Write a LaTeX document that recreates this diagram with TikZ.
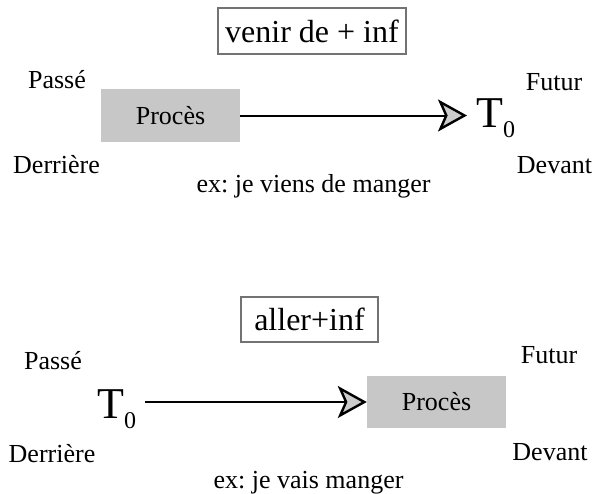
\documentclass[tikz,border=0pt]{standalone}
\usepackage{fontspec}
\setmainfont{Liberation Serif}
\frenchspacing
\usetikzlibrary{arrows.meta}
\begin{document}
\begin{tikzpicture}[x=1pt,y=-1pt,
  lbl/.style={inner sep=0pt, anchor=base, font=\fontsize{26}{30}\selectfont},
  titlebox/.style={draw=black!55, line width=1.6pt, inner sep=0pt, font=\fontsize{32}{36}\selectfont},
  procbox/.style={fill=black!22, inner sep=0pt, font=\fontsize{26}{30}\selectfont},
  tnode/.style={inner xsep=9pt, inner ysep=0pt, anchor=base west, font=\fontsize{44}{48}\selectfont},
  arr/.style={line width=2pt, -{Stealth[length=29pt, width=32pt, inset=7pt, fill=black!20, line width=2.4pt, line join=miter]}}
]
\useasboundingbox (0,0) rectangle (593,493);
% ---------- top ----------
\node[titlebox, minimum width=188pt, minimum height=46pt] (venir) at (312,31) {venir de + inf};
\node[lbl] (passeA) at (57,88) {Passé};
\node[lbl] (futurA) at (554,90) {Futur};
\node[procbox, minimum width=139pt, minimum height=53pt] (procA) at (170.5,115.5) {Procès};
\node[tnode] (tA) at (467,127) {T\raisebox{-10pt}{\fontsize{24}{24}\selectfont 0}};
\node[lbl] (derriereA) at (56.5,173) {Derrière};
\node[lbl] (devantA) at (554.5,173) {Devant};
\node[lbl] (exA) at (313.5,192) {ex: je viens de manger};
\draw[arr] (procA.east) -- (procA.east -| tA.west);
% ---------- bottom ----------
\node[titlebox, minimum width=137pt, minimum height=45pt] (aller) at (309.5,319.5) {aller+inf};
\node[lbl] (passeB) at (53,369) {Passé};
\node[lbl] (futurB) at (549,363) {Futur};
\node[tnode] (tB) at (88,418) {T\raisebox{-10pt}{\fontsize{24}{24}\selectfont 0}};
\node[procbox, minimum width=139pt, minimum height=52pt] (procB) at (436.5,402) {Procès};
\node[lbl] (derriereB) at (52,462) {Derrière};
\node[lbl] (devantB) at (550,460) {Devant};
\node[lbl] (exB) at (308.5,488) {ex: je vais manger};
\draw[arr] (procB.west -| tB.east) -- (procB.west);
\end{tikzpicture}
\end{document}
